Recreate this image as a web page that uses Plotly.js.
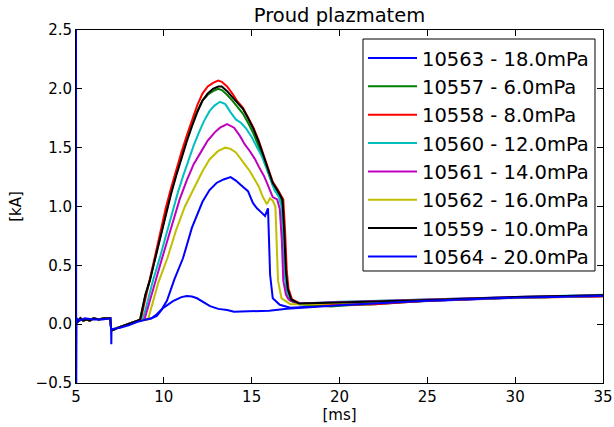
<!DOCTYPE html>
<html>
<head>
<meta charset="utf-8">
<script src="https://cdn.plot.ly/plotly-3.0.1.min.js"></script>
<style>html,body{margin:0;padding:0;background:#fff}#chart{width:614px;height:427px}</style>
</head>
<body>
<div id="chart"></div>
<script>
// shared pre-discharge baseline (ms, kA)
const t_base = [5.0, 5.1, 5.25, 5.4, 5.6, 5.8, 6.0, 6.3, 6.6, 6.95, 7.0, 7.1, 7.4, 7.8, 8.2, 8.5];
const i_base = [0.04, 0.02, 0.05, 0.03, 0.04, 0.03, 0.05, 0.04, 0.05, 0.05, -0.04, -0.05, -0.03, -0.01, 0.01, 0.03];

// 10563 - 18.0 mPa
const t_10563 = [9.0, 9.3, 9.6, 9.9, 10.18, 10.6, 11.09, 11.6, 12.2, 12.6, 13.0, 13.4, 13.8, 14.1, 14.4, 14.79, 15.07, 15.3, 15.55, 15.76, 15.93, 15.97, 16.05, 16.2, 16.6, 17.2, 18.5, 20, 25, 30, 35];
const i_10563 = [0.04, 0.05, 0.085, 0.13, 0.2, 0.38, 0.56, 0.82, 1.04, 1.14, 1.2, 1.23, 1.25, 1.22, 1.18, 1.13, 1.03, 0.985, 0.95, 0.92, 0.985, 0.75, 0.42, 0.22, 0.165, 0.14, 0.15, 0.17, 0.2, 0.225, 0.24];

// 10557 - 6.0 mPa
const t_10557 = [8.65, 8.8, 8.95, 9.2, 9.5, 9.8, 10.1, 10.4, 10.7, 11.0, 11.3, 11.6, 11.9, 12.2, 12.5, 12.8, 13.1, 13.3, 13.6, 13.9, 14.2, 14.5, 14.8, 15.1, 15.4, 15.7, 15.9, 16.2, 16.5, 16.7, 16.8, 16.9, 17.0, 17.2, 17.7, 18.5, 19.5, 20.5, 22, 25, 30, 35];
const i_10557 = [0.04, 0.15, 0.25, 0.37, 0.56, 0.75, 0.95, 1.12, 1.28, 1.43, 1.57, 1.7, 1.81, 1.9, 1.95, 1.98, 2.0, 1.99, 1.95, 1.9, 1.84, 1.79, 1.71, 1.62, 1.51, 1.39, 1.3, 1.18, 1.11, 1.05, 0.8, 0.45, 0.28, 0.2, 0.17, 0.16, 0.15, 0.16, 0.17, 0.2, 0.225, 0.24];

// 10558 - 8.0 mPa
const t_10558 = [8.7, 8.85, 9.0, 9.2, 9.5, 9.8, 10.1, 10.4, 10.7, 11.0, 11.3, 11.6, 11.9, 12.2, 12.5, 12.8, 13.1, 13.3, 13.6, 13.9, 14.2, 14.5, 14.8, 15.1, 15.4, 15.7, 15.9, 16.2, 16.5, 16.8, 16.9, 17.0, 17.1, 17.3, 17.7, 18.5, 20, 22, 25, 30, 35];
const i_10558 = [0.04, 0.15, 0.26, 0.38, 0.58, 0.78, 0.98, 1.15, 1.31, 1.46, 1.6, 1.74, 1.86, 1.96, 2.02, 2.05, 2.07, 2.06, 2.02, 1.96, 1.89, 1.84, 1.76, 1.67, 1.56, 1.43, 1.33, 1.21, 1.14, 1.06, 0.8, 0.45, 0.3, 0.21, 0.18, 0.17, 0.165, 0.17, 0.2, 0.225, 0.235];

// 10560 - 12.0 mPa
const t_10560 = [8.8, 8.95, 9.1, 9.4, 9.8, 10.2, 10.5, 10.8, 11.1, 11.4, 11.7, 12.0, 12.3, 12.6, 12.9, 13.2, 13.5, 13.8, 14.1, 14.4, 14.7, 15.0, 15.3, 15.6, 15.9, 16.1, 16.3, 16.55, 16.7, 16.8, 16.9, 17.0, 17.2, 17.6, 18.5, 20, 25, 30, 35];
const i_10560 = [0.04, 0.12, 0.21, 0.38, 0.58, 0.8, 0.97, 1.12, 1.26, 1.39, 1.52, 1.63, 1.73, 1.81, 1.86, 1.89, 1.87, 1.8, 1.74, 1.71, 1.66, 1.59, 1.5, 1.42, 1.31, 1.22, 1.14, 1.08, 1.0, 0.7, 0.4, 0.28, 0.21, 0.18, 0.18, 0.19, 0.21, 0.235, 0.25];

// 10561 - 14.0 mPa
const t_10561 = [8.9, 9.05, 9.2, 9.5, 9.9, 10.3, 10.9, 11.3, 11.7, 12.1, 12.5, 12.9, 13.2, 13.6, 14.0, 14.33, 14.6, 14.9, 15.2, 15.47, 15.7, 15.87, 16.0, 16.2, 16.45, 16.6, 16.72, 16.8, 16.95, 17.1, 17.6, 18.5, 20, 25, 30, 35];
const i_10561 = [0.04, 0.12, 0.2, 0.37, 0.56, 0.76, 1.06, 1.22, 1.36, 1.46, 1.56, 1.63, 1.67, 1.7, 1.67, 1.6, 1.53, 1.47, 1.4, 1.32, 1.26, 1.2, 1.15, 1.08, 1.06, 0.98, 0.7, 0.37, 0.25, 0.21, 0.175, 0.18, 0.185, 0.21, 0.23, 0.245];

// 10562 - 16.0 mPa
const t_10562 = [9.1, 9.25, 9.4, 9.7, 10.2, 10.7, 11.2, 11.6, 12.2, 12.6, 13.08, 13.5, 13.8, 14.1, 14.33, 14.6, 14.9, 15.2, 15.4, 15.64, 15.87, 16.04, 16.2, 16.35, 16.44, 16.5, 16.7, 17.2, 18.5, 20, 25, 30, 35];
const i_10562 = [0.04, 0.12, 0.2, 0.36, 0.56, 0.8, 1.0, 1.12, 1.3, 1.4, 1.47, 1.5, 1.49, 1.46, 1.41, 1.36, 1.3, 1.22, 1.17, 1.08, 1.02, 1.07, 1.05, 1.0, 0.7, 0.37, 0.22, 0.17, 0.17, 0.18, 0.205, 0.225, 0.24];

// 10559 - 10.0 mPa
const t_10559 = [8.65, 8.8, 8.95, 9.2, 9.5, 9.8, 10.1, 10.4, 10.7, 11.0, 11.3, 11.6, 11.9, 12.2, 12.5, 12.8, 13.1, 13.3, 13.6, 13.9, 14.2, 14.5, 14.8, 15.1, 15.4, 15.7, 15.9, 16.2, 16.5, 16.75, 16.85, 16.95, 17.05, 17.25, 17.7, 18.5, 20, 25, 30, 35];
const i_10559 = [0.04, 0.15, 0.25, 0.37, 0.55, 0.74, 0.93, 1.1, 1.26, 1.41, 1.55, 1.68, 1.8, 1.9, 1.96, 2.0, 2.02, 2.02, 1.98, 1.93, 1.88, 1.83, 1.75, 1.66, 1.55, 1.42, 1.32, 1.2, 1.13, 1.06, 0.8, 0.45, 0.3, 0.21, 0.175, 0.18, 0.185, 0.205, 0.23, 0.245];

// 10564 - 20.0 mPa
const t_10564 = [5.0, 5.01, 5.03, 5.2, 5.5, 6.0, 6.5, 6.95, 7.0, 7.01, 7.02, 7.1, 7.5, 8.0, 8.5, 9.0, 9.3, 9.6, 9.95, 10.52, 11.0, 11.3, 11.6, 11.89, 12.3, 12.63, 13.1, 13.6, 14.0, 15.0, 16.0, 17.0, 18.0, 20.0, 25, 30, 35];
const i_10564 = [2.6, -0.6, 0.05, 0.03, 0.05, 0.04, 0.04, 0.05, -0.04, -0.17, -0.05, -0.04, -0.03, -0.01, 0.02, 0.04, 0.05, 0.07, 0.136, 0.195, 0.23, 0.24, 0.235, 0.22, 0.18, 0.153, 0.13, 0.12, 0.105, 0.11, 0.115, 0.13, 0.14, 0.16, 0.2, 0.225, 0.24];

const series = [
  {name: '10563 - 18.0mPa', t: t_10563, i: i_10563, color: '#0000ff', base: true},
  {name: '10557 - 6.0mPa',  t: t_10557, i: i_10557, color: '#008000', base: true},
  {name: '10558 - 8.0mPa',  t: t_10558, i: i_10558, color: '#ff0000', base: true},
  {name: '10560 - 12.0mPa', t: t_10560, i: i_10560, color: '#00bfbf', base: true},
  {name: '10561 - 14.0mPa', t: t_10561, i: i_10561, color: '#bf00bf', base: true},
  {name: '10562 - 16.0mPa', t: t_10562, i: i_10562, color: '#bfbf00', base: true},
  {name: '10559 - 10.0mPa', t: t_10559, i: i_10559, color: '#000000', base: true},
  {name: '10564 - 20.0mPa', t: t_10564, i: i_10564, color: '#0000ff', base: false}
];

const font = 'DejaVu Sans, sans-serif';
const traces = series.map((s, k) => ({
  type: 'scatter', mode: 'lines', name: s.name,
  x: s.base ? t_base.concat(s.t) : s.t,
  y: s.base ? i_base.concat(s.i) : s.i,
  line: {color: s.color, width: 2},
  legendgroup: 'g' + k
}));

const axisCommon = {
  showline: true, linecolor: '#000', linewidth: 1, mirror: 'ticks',
  ticks: 'inside', ticklen: 6, tickwidth: 1, tickcolor: '#000',
  showgrid: false, zeroline: false,
  tickfont: {family: font, size: 15, color: '#000'}
};

const layout = {
  width: 614, height: 427,
  margin: {l: 76, r: 11, t: 30, b: 44},
  paper_bgcolor: '#fff', plot_bgcolor: '#fff',
  font: {family: font, color: '#000'},
  title: {text: 'Proud plazmatem', font: {family: font, size: 19.5, color: '#000'}, x: 0.5, xref: 'paper', y: 0.965, yref: 'container', yanchor: 'middle'},
  xaxis: Object.assign({}, axisCommon, {range: [5, 35], tickvals: [5, 10, 15, 20, 25, 30, 35],
    title: {text: '[ms]', font: {family: font, size: 15, color: '#000'}, standoff: 4}}),
  yaxis: Object.assign({}, axisCommon, {range: [-0.5, 2.5], tickvals: [-0.5, 0, 0.5, 1, 1.5, 2, 2.5], tickformat: '.1f',
    title: {text: '[kA]', font: {family: font, size: 15, color: '#000'}, standoff: 10}}),
  showlegend: true,
  legend: {x: 0.5446, xanchor: 'left', y: 0.975, yanchor: 'top', bgcolor: 'rgba(0,0,0,0)', borderwidth: 0,
    font: {family: font, size: 19.5, color: '#000'}, tracegroupgap: 4, traceorder: 'normal', itemwidth: 49},
  shapes: [{type: 'rect', xref: 'paper', yref: 'paper', x0: 0.5446, x1: 0.9848, y0: 0.3173, y1: 0.9745,
    line: {color: '#000', width: 1}, fillcolor: '#fff', layer: 'above'}]
};

Plotly.newPlot('chart', traces, layout, {displayModeBar: false, staticPlot: true});
</script>
</body>
</html>
